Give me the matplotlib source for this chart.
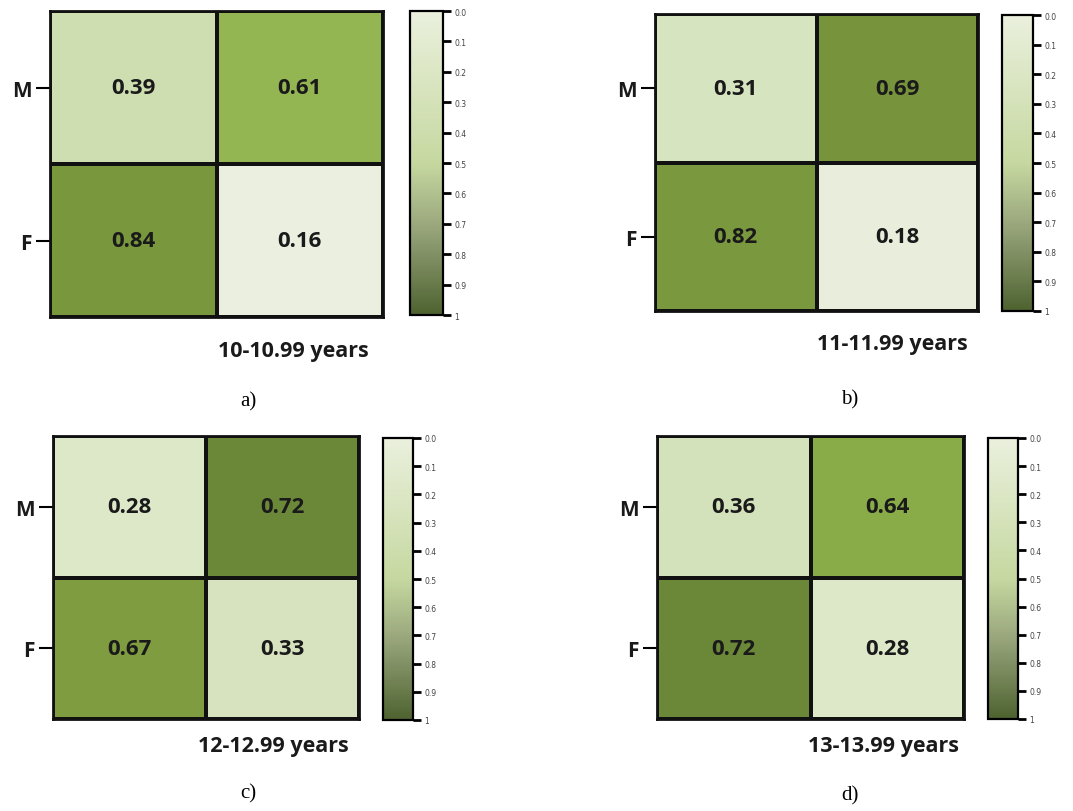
import numpy as np
import matplotlib.pyplot as plt
from matplotlib.colors import LinearSegmentedColormap, Normalize
from matplotlib.cm import ScalarMappable

# panel data (rows: M, F)
rows = ["M", "F"]
vals_a = [[0.39, 0.61], [0.84, 0.16]]
vals_b = [[0.31, 0.69], [0.82, 0.18]]
vals_c = [[0.28, 0.72], [0.67, 0.33]]
vals_d = [[0.36, 0.64], [0.72, 0.28]]
titles = ["10-10.99 years", "11-11.99 years", "12-12.99 years", "13-13.99 years"]
letters = ["a)", "b)", "c)", "d)"]
cbar_ticks = [0.0, 0.1, 0.2, 0.3, 0.4, 0.5, 0.6, 0.7, 0.8, 0.9, 1.0]
cbar_labels = ["0.0", "0.1", "0.2", "0.3", "0.4", "0.5", "0.6", "0.7", "0.8", "0.9", "1"]

cell_cmap = LinearSegmentedColormap.from_list("cells", [
    (0.0, "#f0f4e6"), (0.16, "#eaefdf"), (0.28, "#dde8c9"), (0.31, "#d7e4c0"),
    (0.36, "#d4e2bb"), (0.39, "#cfdeb0"), (0.50, "#b5cd85"), (0.61, "#95b753"),
    (0.64, "#8aac48"), (0.67, "#7f9c40"), (0.72, "#6b8838"), (0.82, "#7a983d"),
    (1.0, "#76913a")])
bar_cmap = LinearSegmentedColormap.from_list("bar", [
    (0.0, "#eaf0dd"), (0.5, "#c6d8a0"), (0.72, "#97a47a"), (1.0, "#4e6230")])

W, H = 1073, 812
fig = plt.figure(figsize=(W / 100, H / 100), dpi=100)
BOLD = dict(family=["Open Sans", "DejaVu Sans"], fontweight="bold", color="#1a1a1a")


def px(x0, y0, x1, y1):
    return [x0 / W, 1 - y1 / H, (x1 - x0) / W, (y1 - y0) / H]


# heatmap box, colorbar box, title centre, letter centre (pixels)
layout = [
    ((50, 12, 383, 318), (410, 12, 443, 316), (293, 352), (248, 402)),
    ((655, 15, 978, 312), (1002, 16, 1033, 312), (892, 345), (850, 400)),
    ((53, 437, 359, 720), (383, 439, 413, 721), (273, 747), (248, 794)),
    ((657, 437, 964, 720), (988, 439, 1018, 720), (883, 747), (850, 796)),
]
panels = [vals_a, vals_b, vals_c, vals_d]
norm = Normalize(0, 1)

for vals, (hbox, cbox, tpos, lpos), title, letter in zip(panels, layout, titles, letters):
    v = np.array(vals)
    ax = fig.add_axes(px(*hbox))
    ax.pcolormesh(v, cmap=cell_cmap, norm=norm, edgecolors="#111111", linewidth=1.6)
    ax.set_xlim(0, 2)
    ax.set_ylim(2, 0)
    for i in range(2):
        for j in range(2):
            ax.text(j + 0.5, i + 0.5, f"{v[i, j]:.2f}", ha="center", va="center",
                    fontsize=16, **BOLD)
    ax.set_xticks([])
    ax.set_yticks([0.5, 1.5])
    ax.set_yticklabels(rows, fontsize=15, **BOLD)
    ax.tick_params(axis="y", length=10, width=1.5, pad=3)
    for s in ax.spines.values():
        s.set_linewidth(2)
        s.set_color("#111111")

    cax = fig.add_axes(px(*cbox))
    cb = fig.colorbar(ScalarMappable(norm=norm, cmap=bar_cmap), cax=cax, ticks=cbar_ticks)
    cb.ax.set_yticklabels(cbar_labels, fontsize=5.5, color="#444444")
    cb.ax.invert_yaxis()
    cb.ax.tick_params(length=6, width=2, pad=2)
    cb.outline.set_linewidth(1.6)

    fig.text(tpos[0] / W, 1 - tpos[1] / H, title, ha="center", va="center",
             fontsize=15.5, **BOLD)
    fig.text(lpos[0] / W, 1 - lpos[1] / H, letter, ha="center", va="center",
             fontsize=15, family="Liberation Serif")

fig.savefig("out.png", dpi=100)
